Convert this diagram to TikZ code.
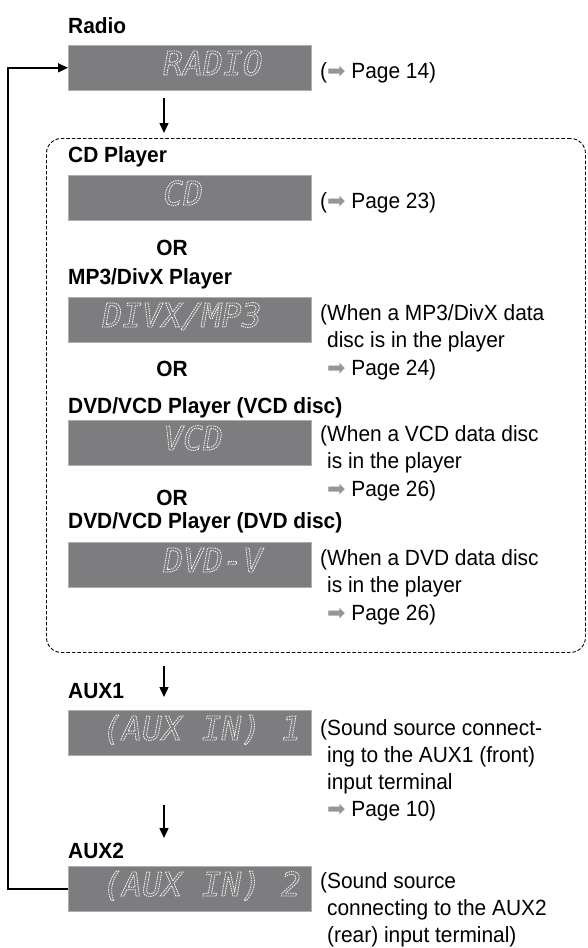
\documentclass[tikz,border=0pt]{standalone}
\usepackage{fontspec}
\setmainfont{Liberation Sans}[FakeStretch=0.95]
\newfontfamily\symfont{DejaVu Sans}
\newfontfamily\lcdfont{DejaVu Sans Mono}[FakeSlant=0.18]
\usetikzlibrary{arrows.meta}

\definecolor{lcdgray}{RGB}{125,125,128}
\definecolor{lcdedge}{RGB}{175,175,178}
\definecolor{ptrgray}{RGB}{150,150,150}
\definecolor{segwhite}{RGB}{248,248,248}

% gray page pointer and dotted display characters
\newcommand{\pg}{{\symfont\color{ptrgray}\char"27A1}}
\newcommand{\segs}[1]{\special{pdf:literal direct 1 Tr 0.85 w [1.4 0.9] 0 d}#1\special{pdf:literal direct 0 Tr [] 0 d}}
\newcommand{\txtsize}{\fontsize{22}{27.5}\selectfont}

\tikzset{
  srclabel/.style={anchor=base west, inner sep=0pt, font=\txtsize\bfseries},
  ornode/.style={anchor=base, inner sep=0pt, font=\txtsize\bfseries},
  note/.style={anchor=base west, inner sep=0pt, font=\txtsize},
  lcdbox/.style={draw=lcdedge, fill=lcdgray, line width=0.6pt, anchor=north west,
    minimum width=243pt, minimum height=45pt, inner sep=0pt},
  lcdtext/.style={anchor=base west, inner sep=0pt, text=segwhite,
    font=\lcdfont\fontsize{33}{33}\selectfont},
  flow/.style={line width=1.4pt, -{Triangle[length=10pt,width=9pt]}}
}

\begin{document}
\begin{tikzpicture}[x=1pt, y=-1pt]

  \useasboundingbox (0,0) rectangle (587,948);

  % Radio
  \node[srclabel] (radiolbl) at (68,33) {Radio};
  \node[lcdbox] (radio) at (68,45) {};
  \node[lcdtext] (radiotxt) at (161,75) {\segs{RADIO}};
  \node[note] (radiopg) at (320,78) {(\pg\ Page 14)};

  % Disc players (dashed group)
  \node[draw, dash pattern=on 3.5pt off 2pt, line width=0.9pt, rounded corners=15pt,
    anchor=north west, minimum width=539pt, minimum height=514pt, inner sep=0pt]
    (modes) at (46,138) {};

  % CD
  \node[srclabel] (cdlbl) at (68,162) {CD Player};
  \node[lcdbox] (cd) at (68,175) {};
  \node[lcdtext] (cdtxt) at (161,205) {\segs{CD}};
  \node[note] (cdpg) at (320,208) {(\pg\ Page 23)};
  \node[ornode] (or1) at (172,255) {OR};

  % MP3/DivX
  \node[srclabel] (mp3lbl) at (68,284) {MP3/DivX Player};
  \node[lcdbox] (mp3) at (68,297) {};
  \node[lcdtext] (mp3txt) at (100,327) {\segs{DIVX/MP3}};
  \node[note] (mp3n1) at (320,320) {(When a MP3/DivX data};
  \node[note] (mp3n2) at (320,347.5) {\phantom{(}disc is in the player};
  \node[note] (mp3n3) at (320,375) {\phantom{(}\pg\ Page 24)};
  \node[ornode] (or2) at (172,376) {OR};

  % VCD
  \node[srclabel] (vcdlbl) at (68,413) {DVD/VCD Player (VCD disc)};
  \node[lcdbox] (vcd) at (68,420) {};
  \node[lcdtext] (vcdtxt) at (161,450) {\segs{VCD}};
  \node[note] (vcdn1) at (320,441) {(When a VCD data disc};
  \node[note] (vcdn2) at (320,468.5) {\phantom{(}is in the player};
  \node[note] (vcdn3) at (320,496) {\phantom{(}\pg\ Page 26)};
  \node[ornode] (or3) at (172,505) {OR};

  % DVD
  \node[srclabel] (dvdlbl) at (68,528) {DVD/VCD Player (DVD disc)};
  \node[lcdbox] (dvd) at (68,542) {};
  \node[lcdtext] (dvdtxt) at (161,572) {\segs{DVD-V}};
  \node[note] (dvdn1) at (320,565) {(When a DVD data disc};
  \node[note] (dvdn2) at (320,592.5) {\phantom{(}is in the player};
  \node[note] (dvdn3) at (320,620) {\phantom{(}\pg\ Page 26)};

  % AUX1
  \node[srclabel] (aux1lbl) at (68,698) {AUX1};
  \node[lcdbox] (aux1) at (68,710) {};
  \node[lcdtext] (aux1txt) at (100,740) {\segs{(AUX IN) 1}};
  \node[note] (aux1n1) at (320,735) {(Sound source connect-};
  \node[note] (aux1n2) at (320,762) {\phantom{(}ing to the AUX1 (front)};
  \node[note] (aux1n3) at (320,789) {\phantom{(}input terminal};
  \node[note] (aux1n4) at (320,816) {\phantom{(}\pg\ Page 10)};

  % AUX2
  \node[srclabel] (aux2lbl) at (68,858) {AUX2};
  \node[lcdbox] (aux2) at (68,866) {};
  \node[lcdtext] (aux2txt) at (100,896) {\segs{(AUX IN) 2}};
  \node[note] (aux2n1) at (320,888) {(Sound source};
  \node[note] (aux2n2) at (320,915.3) {\phantom{(}connecting to the AUX2};
  \node[note] (aux2n3) at (320,942.5) {\phantom{(}(rear) input terminal)};

  % Step arrows
  \coordinate (ax) at (164,0);
  \draw[flow, shorten <=7pt, shorten >=5pt] (radio.south -| ax) -- (modes.north -| ax);
  \draw[flow, shorten <=13pt, shorten >=13pt] (modes.south -| ax) -- (aux1.north -| ax);
  \coordinate (a3start) at (164,805);
  \coordinate (a3end) at (164,838);
  \draw[flow] (a3start) -- (a3end);

  % Back to radio
  \draw[flow] (aux2.west) -- ++(-60,0) |- (radio.west);

\end{tikzpicture}
\end{document}
